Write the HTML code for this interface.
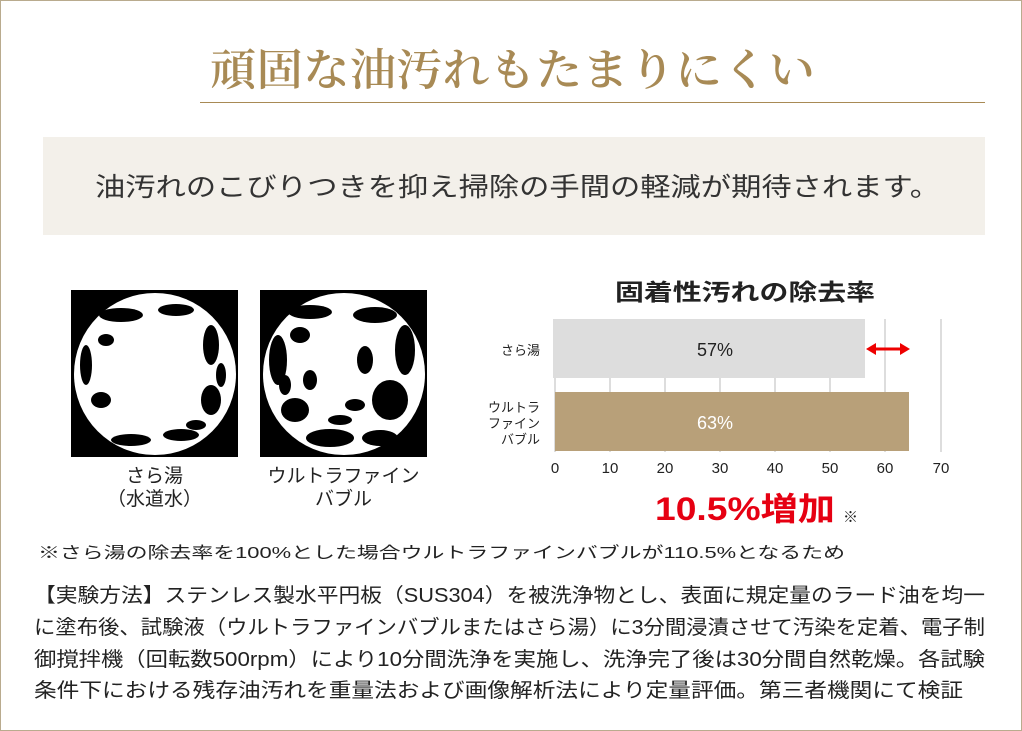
<!DOCTYPE html>
<html><head><meta charset="utf-8"><style>
body{margin:0;width:1022px;height:731px;background:#fff;position:relative;overflow:hidden;font-family:"Liberation Sans","Noto Sans CJK JP",sans-serif;color:#222}
.frame{position:absolute;left:0;top:0;width:1020px;height:729px;border:1px solid #b9ab8e}
.a{position:absolute;white-space:nowrap}
</style></head><body>
<div class="frame"></div>
<svg class="a" style="left:0;top:0" width="1022" height="731">
<text x="210" y="85" font-family="'Noto Serif CJK SC','Noto Serif CJK JP',serif" font-size="44" font-weight="600" fill="#a88a55" textLength="605" lengthAdjust="spacingAndGlyphs">頑固な油汚れもたまりにくい</text>
</svg>
<div class="a" style="left:200px;top:102px;width:785px;height:1px;background:#a88a55"></div>
<div class="a" style="left:43px;top:137px;width:942px;height:98px;background:#f3f0ea"></div>
<svg class="a" style="left:0;top:0" width="1022" height="731">
<text x="95" y="196" font-size="26" fill="#333" textLength="845" lengthAdjust="spacingAndGlyphs">油汚れのこびりつきを抑え掃除の手間の軽減が期待されます。</text>
<text x="615" y="300" font-size="23" font-weight="bold" fill="#222" textLength="260" lengthAdjust="spacingAndGlyphs">固着性汚れの除去率</text>
<text x="38" y="558" font-size="16" fill="#222" textLength="807" lengthAdjust="spacingAndGlyphs">※さら湯の除去率を100%とした場合ウルトラファインバブルが110.5%となるため</text>
<g font-size="20" fill="#222">
<text x="34" y="602" textLength="951" lengthAdjust="spacingAndGlyphs">【実験方法】ステンレス製水平円板（SUS304）を被洗浄物とし、表面に規定量のラード油を均一</text>
<text x="34" y="634" textLength="951" lengthAdjust="spacingAndGlyphs">に塗布後、試験液（ウルトラファインバブルまたはさら湯）に3分間浸漬させて汚染を定着、電子制</text>
<text x="34" y="666" textLength="951" lengthAdjust="spacingAndGlyphs">御撹拌機（回転数500rpm）により10分間洗浄を実施し、洗浄完了後は30分間自然乾燥。各試験</text>
<text x="34" y="697" textLength="929" lengthAdjust="spacingAndGlyphs">条件下における残存油汚れを重量法および画像解析法により定量評価。第三者機関にて検証</text>
</g>
<text x="655" y="520" font-size="32" font-weight="bold" fill="#e60012" textLength="180" lengthAdjust="spacingAndGlyphs">10.5%増加</text>
<text x="843" y="522" font-size="15" fill="#222">※</text>
</svg>

<svg class="a" style="left:71px;top:290px" width="167" height="167">
<rect width="167" height="167" fill="#000"/>
<circle cx="84" cy="84" r="81" fill="#fff"/>
<g fill="#000">
<ellipse cx="50" cy="25" rx="22" ry="7"/><ellipse cx="105" cy="20" rx="18" ry="6"/><ellipse cx="140" cy="55" rx="8" ry="20"/>
<ellipse cx="15" cy="75" rx="6" ry="20"/><ellipse cx="30" cy="110" rx="10" ry="8"/><ellipse cx="140" cy="110" rx="10" ry="15"/>
<ellipse cx="60" cy="150" rx="20" ry="6"/><ellipse cx="110" cy="145" rx="18" ry="6"/><ellipse cx="35" cy="50" rx="8" ry="6"/>
<ellipse cx="150" cy="85" rx="5" ry="12"/><ellipse cx="125" cy="135" rx="10" ry="5"/>
</g></svg>
<svg class="a" style="left:260px;top:290px" width="167" height="167">
<rect width="167" height="167" fill="#000"/>
<circle cx="84" cy="84" r="81" fill="#fff"/>
<g fill="#000">
<ellipse cx="50" cy="22" rx="22" ry="7"/><ellipse cx="115" cy="25" rx="22" ry="8"/><ellipse cx="145" cy="60" rx="10" ry="25"/>
<ellipse cx="18" cy="70" rx="9" ry="25"/><ellipse cx="35" cy="120" rx="14" ry="12"/><ellipse cx="130" cy="110" rx="18" ry="20"/>
<ellipse cx="70" cy="148" rx="24" ry="9"/><ellipse cx="120" cy="148" rx="18" ry="8"/><ellipse cx="40" cy="45" rx="10" ry="8"/>
<ellipse cx="105" cy="70" rx="8" ry="14"/><ellipse cx="50" cy="90" rx="7" ry="10"/><ellipse cx="95" cy="115" rx="10" ry="6"/>
<ellipse cx="80" cy="130" rx="12" ry="5"/><ellipse cx="25" cy="95" rx="6" ry="10"/>
</g></svg>
<div class="a" style="left:71px;width:167px;top:465px;text-align:center;font-size:19px;line-height:23px">さら湯<br>（水道水）</div>
<div class="a" style="left:240px;width:207px;top:465px;text-align:center;font-size:19px;line-height:23px">ウルトラファイン<br>バブル</div>

<svg class="a" style="left:470px;top:310px" width="500" height="175">
<g stroke="#ddd" stroke-width="2">
<line x1="85" y1="9" x2="85" y2="142"/><line x1="140" y1="9" x2="140" y2="142"/><line x1="195" y1="9" x2="195" y2="142"/><line x1="250" y1="9" x2="250" y2="142"/><line x1="305" y1="9" x2="305" y2="142"/><line x1="360" y1="9" x2="360" y2="142"/><line x1="415" y1="9" x2="415" y2="142"/><line x1="471" y1="9" x2="471" y2="142"/>
</g>
<rect x="83" y="9" width="312" height="59" fill="#dddddd"/>
<rect x="85" y="82" width="354" height="59" fill="#b8a079"/>
<text x="245" y="46" font-size="18" text-anchor="middle" fill="#222">57%</text>
<text x="245" y="119" font-size="18" text-anchor="middle" fill="#fff">63%</text>
<line x1="402" y1="39" x2="433" y2="39" stroke="#e00" stroke-width="3"/>
<polygon points="396,39 406,33 406,45" fill="#e00"/><polygon points="440,39 430,33 430,45" fill="#e00"/>
<g font-size="15" text-anchor="middle" fill="#222">
<text x="85" y="163">0</text><text x="140" y="163">10</text><text x="195" y="163">20</text><text x="250" y="163">30</text><text x="305" y="163">40</text><text x="360" y="163">50</text><text x="415" y="163">60</text><text x="471" y="163">70</text>
</g>
<g font-size="13" text-anchor="end" fill="#222">
<text x="70" y="45">さら湯</text><text x="70" y="102">ウルトラ</text><text x="70" y="118">ファイン</text><text x="70" y="134">バブル</text>
</g>
</svg>
</body></html>
